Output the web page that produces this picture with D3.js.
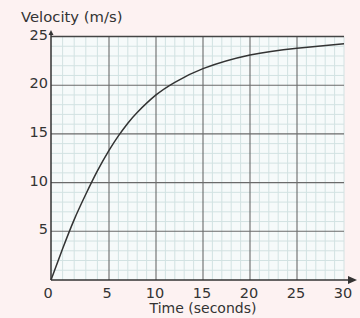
<!DOCTYPE html>
<html><head><meta charset="utf-8">
<script src="https://cdn.jsdelivr.net/npm/d3@7"></script>
<style>html,body{margin:0;padding:0;background:#fdf2f2;}svg{display:block;}</style>
</head><body>
<svg id="c" width="360" height="318"></svg>
<script>
const timeValues = [0, 1, 2, 3, 4, 5, 6, 7, 8, 10, 12, 15, 20, 25, 30];
const velocityValues = [0, 3.2, 6.2, 8.8, 11.2, 13.3, 14.8, 16.1, 17.2, 19.0, 20.3, 21.7, 23.1, 23.8, 24.25];
const xTickLabels = [0, 5, 10, 15, 20, 25, 30];
const yTickLabels = [5, 10, 15, 20, 25];
const xTitle = "Time (seconds)";
const yTitle = "Velocity (m/s)";

const svg = d3.select("#c");
const font = "'DejaVu Sans', sans-serif";
const x = d3.scaleLinear().domain([0, 5, 30]).range([51, 109, 344]);
const y = d3.scaleLinear().domain([0, 25]).range([280, 36.5]);

// plot background
svg.append("rect").attr("x", x(0)).attr("y", y(25)).attr("width", x(30) - x(0)).attr("height", y(0) - y(25)).attr("fill", "#f6fafa");

// minor grid
svg.append("g").selectAll("line").data(d3.range(0, 31, 1).filter(d => d % 5 !== 0 || d === 30)).join("line")
  .attr("x1", d => x(d)).attr("x2", d => x(d)).attr("y1", y(0)).attr("y2", y(25))
  .attr("stroke", "#d2e2e2").attr("stroke-width", 1);
svg.append("g").selectAll("line").data(d3.range(0, 26, 1).filter(d => d % 5 !== 0)).join("line")
  .attr("y1", d => y(d)).attr("y2", d => y(d)).attr("x1", x(0)).attr("x2", x(30))
  .attr("stroke", "#d2e2e2").attr("stroke-width", 1);

// major grid
svg.append("g").selectAll("line").data(xTickLabels.filter(d => d > 0 && d < 30)).join("line")
  .attr("x1", d => x(d)).attr("x2", d => x(d)).attr("y1", y(0)).attr("y2", y(25))
  .attr("stroke", "#6a6a6a").attr("stroke-width", 1.1);
svg.append("g").selectAll("line").data(yTickLabels).join("line")
  .attr("y1", d => y(d)).attr("y2", d => y(d)).attr("x1", x(0)).attr("x2", x(30))
  .attr("stroke", d => d === 25 ? "#444" : "#6a6a6a").attr("stroke-width", d => d === 25 ? 1.5 : 1.1);

// axes
svg.append("line").attr("x1", x(0)).attr("x2", 350).attr("y1", y(0)).attr("y2", y(0)).attr("stroke", "#333").attr("stroke-width", 1.5);
svg.append("path").attr("d", `M${357},${y(0)} L${348},${y(0) - 4} L${348},${y(0) + 4} Z`).attr("fill", "#333");
svg.append("line").attr("x1", x(0)).attr("x2", x(0)).attr("y1", y(0)).attr("y2", 33).attr("stroke", "#333").attr("stroke-width", 1.5);
svg.append("path").attr("d", `M${x(0)},${30} L${x(0) - 2.5},${35} L${x(0) + 2.5},${35} Z`).attr("fill", "#333");

// curve
const line = d3.line().x((d, i) => x(timeValues[i])).y(d => y(d)).curve(d3.curveNatural);
svg.append("path").datum(velocityValues).attr("d", line).attr("fill", "none").attr("stroke", "#333").attr("stroke-width", 1.5);

// tick labels
svg.append("g").selectAll("text").data(yTickLabels).join("text")
  .attr("x", 48).attr("y", d => y(d) + 3).attr("text-anchor", "end")
  .attr("font-family", font).attr("font-size", 14.5).attr("fill", "#333").text(d => d);
svg.append("g").selectAll("text").data(xTickLabels).join("text")
  .attr("x", d => x(d) - (d === 0 ? 3 : d === 5 ? 2 : 1)).attr("y", 298).attr("text-anchor", "middle")
  .attr("font-family", font).attr("font-size", 14.5).attr("fill", "#333").text(d => d);

// titles
svg.append("text").attr("x", 21).attr("y", 21.5).attr("font-family", font).attr("font-size", 14.8).attr("fill", "#333").text(yTitle);
svg.append("text").attr("x", 203).attr("y", 313).attr("text-anchor", "middle").attr("font-family", font).attr("font-size", 14).attr("fill", "#333").text(xTitle);
</script>
</body></html>
